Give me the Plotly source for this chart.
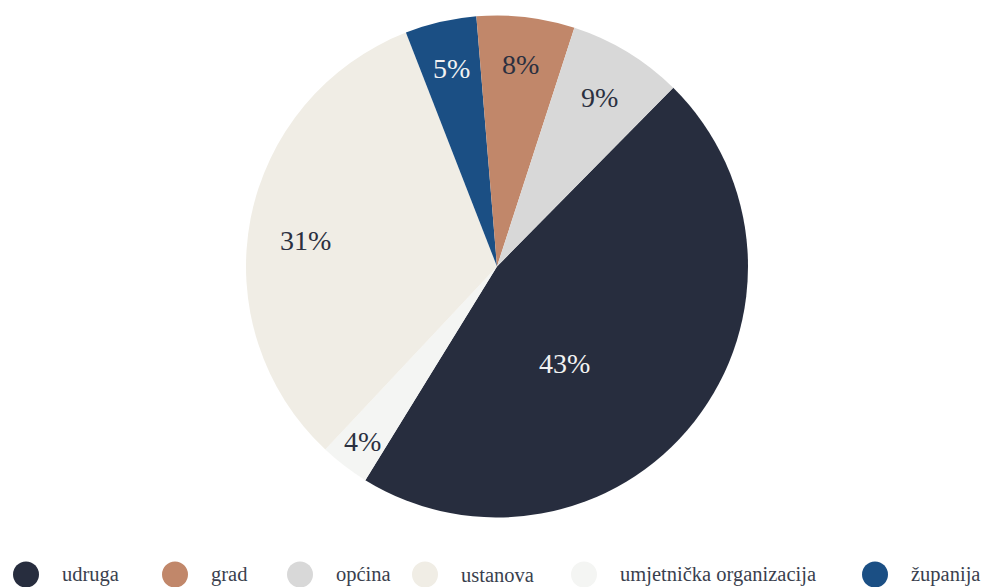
import math
import plotly.graph_objects as go

# ---- data (legend order) ----
categories = ["udruga", "grad", "općina", "ustanova", "umjetnička organizacija", "županija"]
shares = [46.4, 6.3, 7.4, 32.1, 3.2, 4.6]          # slice sizes
pct_labels = ["43%", "8%", "9%", "31%", "4%", "5%"]  # labels printed on slices
colors = ["#272d3e", "#c1876a", "#d8d8d8", "#f0ede5", "#f4f5f3", "#1b4f84"]
text_colors = ["#f2f2f2", "#2b3040", "#2b3040", "#2b3040", "#2b3040", "#f2f2f2"]

# slice order, clockwise from the start angle
slice_order = ["udruga", "umjetnička organizacija", "ustanova", "županija", "grad", "općina"]

# label placement style: fraction of radius, and angular shift (deg) from the slice mid-angle
label_radius = {"udruga": 0.47, "umjetnička organizacija": 0.88, "ustanova": 0.77,
                "županija": 0.81, "grad": 0.81, "općina": 0.79}
label_shift = {"udruga": 16.8, "ustanova": -3.2}

W, H = 981, 587
cx, cy, R = 497, 266.5, 251
START = 44.6
FONT = "Liberation Serif"

idx = [categories.index(c) for c in slice_order]
vals = [shares[i] for i in idx]

fig = go.Figure()
fig.add_trace(go.Pie(
    labels=slice_order,
    values=vals,
    textinfo="none",
    marker=dict(colors=[colors[i] for i in idx], line=dict(width=0)),
    sort=False,
    direction="clockwise",
    rotation=START,
    showlegend=False,
    hoverinfo="label+percent",
    domain=dict(x=[(cx - R) / W, (cx + R) / W], y=[1 - (cy + R) / H, 1 - (cy - R) / H]),
))

annotations = []
# slice labels, placed from the slice geometry derived from the values
total = sum(vals)
acc = 0.0
for name, v in zip(slice_order, vals):
    mid = START + (acc + v / 2) / total * 360 + label_shift.get(name, 0)
    acc += v
    r = label_radius[name] * R
    px = cx + r * math.sin(math.radians(mid))
    py = cy - r * math.cos(math.radians(mid))
    i = categories.index(name)
    annotations.append(dict(x=px / W, y=1 - py / H, xref="paper", yref="paper",
                            text=pct_labels[i], showarrow=False,
                            xanchor="center", yanchor="middle",
                            font=dict(family=FONT, size=28, color=text_colors[i])))

# ---- custom legend (large circle swatches) ----
legend_circle_x = [26, 175, 300, 425, 584, 875]
legend_y = 574.5
shapes = []
for name, col, x in zip(categories, colors, legend_circle_x):
    shapes.append(dict(type="circle", xref="paper", yref="paper",
                       xsizemode="pixel", ysizemode="pixel",
                       xanchor=x / W, yanchor=1 - legend_y / H,
                       x0=-13, x1=13, y0=-13, y1=13,
                       fillcolor=col, line=dict(width=0)))
    annotations.append(dict(x=(x + 34) / W, y=1 - legend_y / H, xref="paper", yref="paper",
                            text=name, showarrow=False, xanchor="left", yanchor="middle",
                            font=dict(family=FONT, size=20.5, color="#3a3f4e")))

fig.update_layout(
    width=W, height=H,
    margin=dict(l=0, r=0, t=0, b=0),
    paper_bgcolor="white", plot_bgcolor="white",
    shapes=shapes, annotations=annotations,
)

fig.write_html("out.html", config={"displayModeBar": False},
               post_script="document.body.style.margin='0';")
